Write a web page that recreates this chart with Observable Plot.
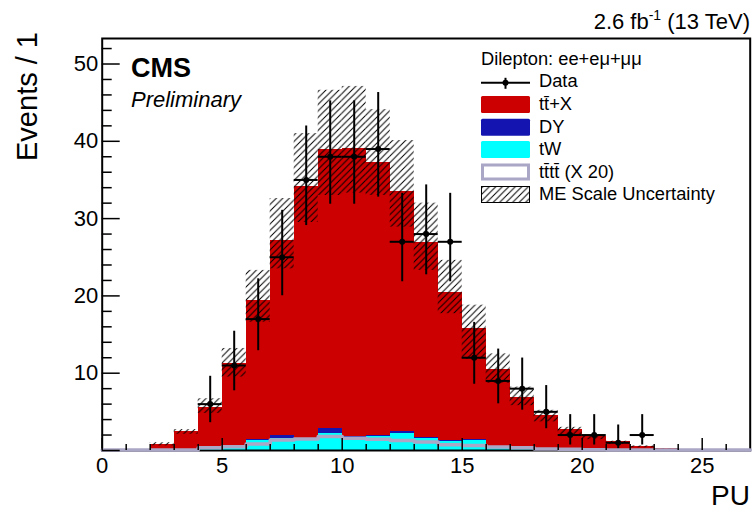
<!DOCTYPE html>
<html>
<head>
<meta charset="utf-8">
<script src="https://cdn.jsdelivr.net/npm/d3@7"></script>
<script src="https://cdn.jsdelivr.net/npm/@observablehq/plot@0.6"></script>
<style>
  body { margin: 0; background: #fff; }
</style>
</head>
<body>
<div id="chart"></div>
<script>
// Pile-up (PU) histogram, dilepton channel: bins of width 1 from 0 to 27
const binLow = [0, 1, 2, 3, 4, 5, 6, 7, 8, 9, 10, 11, 12, 13, 14, 15, 16, 17, 18, 19, 20, 21, 22, 23, 24, 25, 26];

// Stacked simulation yields per bin
const ttX = [0, 0.1, 0.78, 2.35, 5.45, 10.88, 17.97, 25.2, 32.6, 36.1, 37.35, 35.35, 31.05, 25.18, 19.2, 14.38, 10.15, 6.6, 4.3, 2.58, 1.72, 1.05, 0.48, 0.2, 0.1, 0.05, 0.02];
const dyYield = [0, 0, 0, 0, 0, 0.02, 0.08, 0.4, 0.05, 0.55, 0.05, 0.15, 0.3, 0.22, 0.1, 0.12, 0, 0, 0, 0, 0, 0, 0, 0, 0, 0, 0];
const tWYield = [0, 0, 0.02, 0.05, 0.15, 0.3, 1.35, 1.6, 1.55, 2.25, 1.7, 1.8, 2.15, 1.5, 1.2, 1.3, 0.35, 0.3, 0.2, 0.12, 0.08, 0.05, 0.02, 0, 0, 0, 0];

// Four-top signal, scaled by 20 (drawn as an outline)
const ttttX20 = [0.05, 0.05, 0.05, 0.08, 0.35, 0.5, 0.85, 1.35, 1.5, 1.8, 1.6, 1.45, 1.3, 1.1, 0.75, 0.65, 0.45, 0.35, 0.2, 0.15, 0.1, 0.08, 0.05, 0.05, 0.05, 0.05, 0.05];

// ME scale uncertainty envelope on the total prediction
const scaleUp   = [0, 0.12, 1.0, 2.7, 6.7, 13.2, 23.3, 32.6, 41.0, 46.6, 47.1, 44.1, 40.1, 32.0, 24.6, 18.8, 12.5, 8.2, 5.2, 3.0, 2.0, 1.2, 0.6, 0.25, 0.12, 0.06, 0.02];
const scaleDown = [0, 0.08, 0.6, 2.1, 4.8, 9.5, 16.6, 23.5, 29.5, 33.0, 33.3, 33.0, 28.9, 23.3, 17.7, 11.8, 8.7, 5.8, 3.7, 1.9, 1.4, 0.8, 0.35, 0.15, 0.08, 0.04, 0.01];

// Observed events and their Poisson interval ends
const dataCounts = [0, 0, 0, 0, 6, 11, 17, 25, 35, 38, 38, 39, 27, 28, 27, 12, 9, 8, 5, 2, 2, 1, 2, 0, 0, 0, 0];
const dataLow    = [0, 0, 0, 0, 3.6, 7.72, 12.91, 20.02, 29.1, 31.86, 31.86, 32.78, 21.83, 22.73, 21.83, 8.57, 6.04, 5.22, 2.82, 0.71, 0.71, 0.17, 0.71, 0, 0, 0, 0];
const dataHigh   = [0, 0, 0, 0, 9.6, 15.43, 22.21, 31.07, 41.98, 45.23, 45.23, 46.31, 33.27, 34.36, 33.27, 16.57, 13.12, 11.96, 8.4, 4.64, 4.64, 3.3, 4.64, 0, 0, 0, 0];

// Axis ticks
const xMajor = [0, 5, 10, 15, 20, 25];
const xMinor = [1, 2, 3, 4, 6, 7, 8, 9, 11, 12, 13, 14, 16, 17, 18, 19, 21, 22, 23, 24, 26];
const yMajor = [0, 10, 20, 30, 40, 50];
const yMinor = [2, 4, 6, 8, 12, 14, 16, 18, 22, 24, 26, 28, 32, 34, 36, 38, 42, 44, 46, 48, 52];
const yLabels = [10, 20, 30, 40, 50];

// Legend
const procNames = ["ttX", "DY", "tW"];
const procColors = ["#cc0000", "#1414b0", "#00ffff"];
const ttttColor = "#aaa6c6";
const legendHeader = "Dilepton: ee+eμ+μμ";
const legendLabels = ["Data", "tt\u0304+X", "DY", "tW", "tt\u0304tt\u0304 (X 20)", "ME Scale Uncertainty"];

// Table build
const bins = binLow.map((lo, i) => ({
  lo, hi: lo + 1, mid: lo + 0.5,
  up: scaleUp[i], down: scaleDown[i],
  n: dataCounts[i], nLow: dataLow[i], nHigh: dataHigh[i]
}));
const stackRows = [];
binLow.forEach((lo, i) => {
  stackRows.push({lo, hi: lo + 1, proc: "tW", v: tWYield[i]});
  stackRows.push({lo, hi: lo + 1, proc: "DY", v: dyYield[i]});
  stackRows.push({lo, hi: lo + 1, proc: "ttX", v: ttX[i]});
});
const ttttLine = binLow.map((lo, i) => ({x: lo, y: ttttX20[i]}));
ttttLine.push({x: binLow[binLow.length - 1] + 1, y: ttttX20[ttttX20.length - 1]});
const dataBins = bins.filter(d => d.n > 0);

const font = "'Liberation Sans', Arial, Helvetica, sans-serif";

const svg = Plot.plot({
  width: 756,
  height: 512,
  marginLeft: 101.7,
  marginRight: 6.3,
  marginTop: 38,
  marginBottom: 62,
  style: {fontFamily: font, background: "#fff"},
  x: {domain: [0, 27], label: null},
  y: {domain: [0, 53.3], label: null},
  color: {domain: procNames, range: procColors},
  marks: [
    Plot.rectY(stackRows, {x1: "lo", x2: "hi", y: "v", fill: "proc", order: ["tW", "DY", "ttX"], shapeRendering: "crispEdges"}),
    Plot.rectY(bins, {x1: "lo", x2: "hi", y1: "down", y2: "up", fill: "url(#hatch)"}),
    Plot.ruleX(dataBins, {x: "mid", y1: "nLow", y2: "nHigh", stroke: "black", strokeWidth: 2}),
    Plot.ruleY(dataBins, {y: "n", x1: "lo", x2: "hi", stroke: "black", strokeWidth: 2}),
    Plot.dot(dataBins, {x: "mid", y: "n", r: 3, fill: "black", stroke: "none"}),
    Plot.frame({stroke: "black", strokeWidth: 2}),
    Plot.line(ttttLine, {x: "x", y: "y", curve: "step-after", stroke: ttttColor, strokeWidth: 3.5}),
    Plot.axisY({ticks: yMajor, tickSize: -18, fill: "none", stroke: "black", strokeWidth: 1.5, label: null}),
    Plot.axisY({ticks: yMinor, tickSize: -10, fill: "none", stroke: "black", strokeWidth: 1.5, label: null}),
    Plot.axisY({ticks: yLabels, tickSize: 0, tickPadding: 4, fontSize: 22, fill: "black", label: null}),
    Plot.axisX({ticks: xMajor, tickSize: -12, fill: "none", stroke: "black", strokeWidth: 1.5, label: null}),
    Plot.axisX({ticks: xMinor, tickSize: -6, fill: "none", stroke: "black", strokeWidth: 1.5, label: null}),
    Plot.axisX({ticks: xMajor, tickSize: 0, tickPadding: 7, fontSize: 22, fill: "black", label: null})
  ]
});

const root = d3.select(svg);

// Hatch pattern for the uncertainty band
const defs = root.insert("defs", ":first-child");
const pat = defs.append("pattern")
  .attr("id", "hatch")
  .attr("patternUnits", "userSpaceOnUse")
  .attr("width", 6.5).attr("height", 6.5);
pat.append("path")
  .attr("d", "M-1,1 L1,-1 M0,6.5 L6.5,0 M5.5,7.5 L7.5,5.5")
  .attr("stroke", "black")
  .attr("stroke-width", 1)
  .attr("fill", "none");

const ann = root.append("g")
  .attr("font-family", font).attr("fill", "black").attr("text-anchor", "start");

// Experiment label
ann.append("text").attr("x", 131).attr("y", 77)
  .attr("font-size", 27).attr("font-weight", "bold").text("CMS");
ann.append("text").attr("x", 131).attr("y", 106.5)
  .attr("font-size", 22).attr("font-style", "italic").text("Preliminary");

// Luminosity label
const lumi = ann.append("text").attr("x", 750).attr("y", 29)
  .attr("font-size", 22).attr("text-anchor", "end");
lumi.append("tspan").text("2.6 fb");
lumi.append("tspan").attr("font-size", 14).attr("dy", -9).text("-1");
lumi.append("tspan").attr("dy", 9).text(" (13 TeV)");

// Axis titles
ann.append("text")
  .attr("transform", "translate(37,32) rotate(-90)")
  .attr("text-anchor", "end").attr("font-size", 29)
  .text("Events / 1");
ann.append("text").attr("x", 750).attr("y", 505)
  .attr("text-anchor", "end").attr("font-size", 28).text("PU");

// Legend
const leg = root.append("g")
  .attr("font-family", font).attr("font-size", 18.3).attr("fill", "black").attr("text-anchor", "start");
leg.append("text").attr("x", 481).attr("y", 65).text(legendHeader);
const rowY = [87.3, 110, 132.7, 155, 177.5, 199.5];
const boxX = 481, boxW = 49, textX = 539;
legendLabels.forEach((label, i) => {
  const y = rowY[i];
  leg.append("text").attr("x", textX).attr("y", y).text(label);
  if (i === 0) {
    leg.append("line").attr("x1", boxX).attr("x2", boxX + boxW)
      .attr("y1", y - 4.6).attr("y2", y - 4.6).attr("stroke", "black").attr("stroke-width", 2);
    leg.append("line").attr("x1", boxX + boxW / 2).attr("x2", boxX + boxW / 2)
      .attr("y1", y - 9.5).attr("y2", y + 1.5).attr("stroke", "black").attr("stroke-width", 2);
    leg.append("circle").attr("cx", boxX + boxW / 2).attr("cy", y - 4.6).attr("r", 3).attr("fill", "black");
  } else if (i <= 3) {
    leg.append("rect").attr("x", boxX).attr("y", y - 14).attr("width", boxW).attr("height", 17)
      .attr("rx", 1.5).attr("fill", procColors[i - 1]);
  } else if (i === 4) {
    leg.append("rect").attr("x", boxX + 1.5).attr("y", y - 12.5).attr("width", boxW - 3).attr("height", 14)
      .attr("fill", "white").attr("stroke", ttttColor).attr("stroke-width", 3);
  } else {
    leg.append("rect").attr("x", boxX + 0.5).attr("y", y - 13).attr("width", boxW - 1).attr("height", 16)
      .attr("fill", "url(#hatch)").attr("stroke", "black").attr("stroke-width", 1);
  }
});

document.getElementById("chart").appendChild(svg);
</script>
</body>
</html>
